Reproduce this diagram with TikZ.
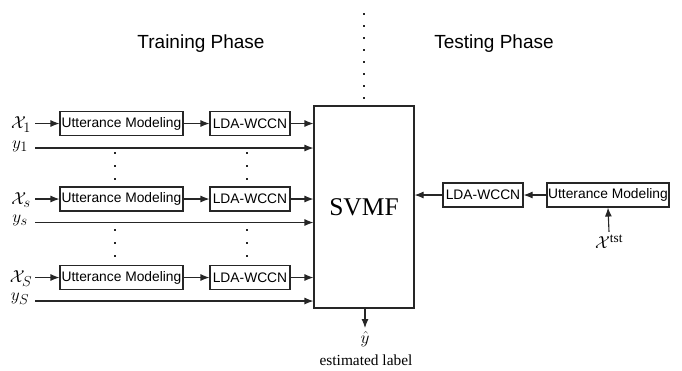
\documentclass[tikz,border=0pt]{standalone}
\usepackage{fontspec}
\setmainfont{Liberation Serif}
\setsansfont{Liberation Sans}
\usetikzlibrary{arrows.meta}
\begin{document}
\begin{tikzpicture}[x=1pt,y=-1pt,
  box/.style={draw=black!85, line width=1.1pt, inner sep=0pt, minimum height=24pt, font=\sffamily\fontsize{13.8}{15}\selectfont, anchor=center},
  arr/.style={draw=black!85, -{Latex[length=9pt,width=7pt]}, line width=1.1pt},
  lbl/.style={font=\fontsize{19}{22}\selectfont, inner sep=0pt, anchor=center},
  title/.style={font=\sffamily\fontsize{19}{22}\selectfont, anchor=center},
  sq/.style={fill=black!85}]
\useasboundingbox (0,0) rectangle (682,370);

% titles
\node[title] (train) at (201,44) {Training Phase};
\node[title] (test) at (494,44) {Testing Phase};

% vertical dotted separator
\foreach \yy in {14,26,...,98} \fill[sq] (363,\yy-1) rectangle +(2,2);

% SVMF
\node[draw=black!85, line width=1.1pt, minimum width=100pt, minimum height=202pt, inner sep=0pt,
      font=\fontsize{25.5}{28}\selectfont] (svmf) at (364,207) {SVMF};

% left rows
\foreach \r/\yc/\yl/\xs/\ys in {1/123.5/148/{1}/{1}, 2/199/222.5/{s}/{s}, 3/277.5/301/{S}/{S}} {
  \node[box, minimum width=123pt] (um\r) at (121.5,\yc) {Utterance Modeling};
  \node[box, minimum width=80pt] (lda\r) at (250,\yc) {LDA-WCCN};
  \node[lbl] (x\r) at (21,\yc+1) {$\mathcal{X}_{\xs}$};
  \node[lbl] (y\r) at (20,\yl-2) {$y_{\ys}$};
  \coordinate (ys\r) at (35,\yl);
  \draw[arr] (35,\yc) coordinate (xs\r) -- (um\r.west);
  \draw[arr] (um\r) -- (lda\r);
  \draw[arr] (lda\r.east) -- (lda\r.east -| svmf.west);
  \draw[arr] (ys\r) -- (ys\r -| svmf.west);
}

% vertical dots between rows
\foreach \xx in {115,247} {
  \foreach \yy in {153,166,179,230,243,256} \fill[sq] (\xx-1.4,\yy-1.4) rectangle +(2.8,2.8);
}

% testing side
\node[box, minimum width=122pt] (umt) at (608,195) {Utterance Modeling};
\node[box, minimum width=80pt] (ldat) at (483,195) {LDA-WCCN};
\node[lbl] (xt) at (609,242) {$\mathcal{X}^{\mathrm{tst}}$};
\draw[arr] (xt.north) ++(0,-3) -- (umt.south);
\draw[arr] (umt) -- (ldat);
\draw[arr] (ldat.west) -- (ldat.west -| svmf.east);

% output
\node[lbl] (yhat) at (365,339) {$\hat{y}$};
\node[font=\fontsize{15.4}{18}\selectfont, anchor=center] (est) at (366,360) {estimated label};
\draw[arr] (svmf.south -| yhat) -- (365,328);
\end{tikzpicture}
\end{document}
